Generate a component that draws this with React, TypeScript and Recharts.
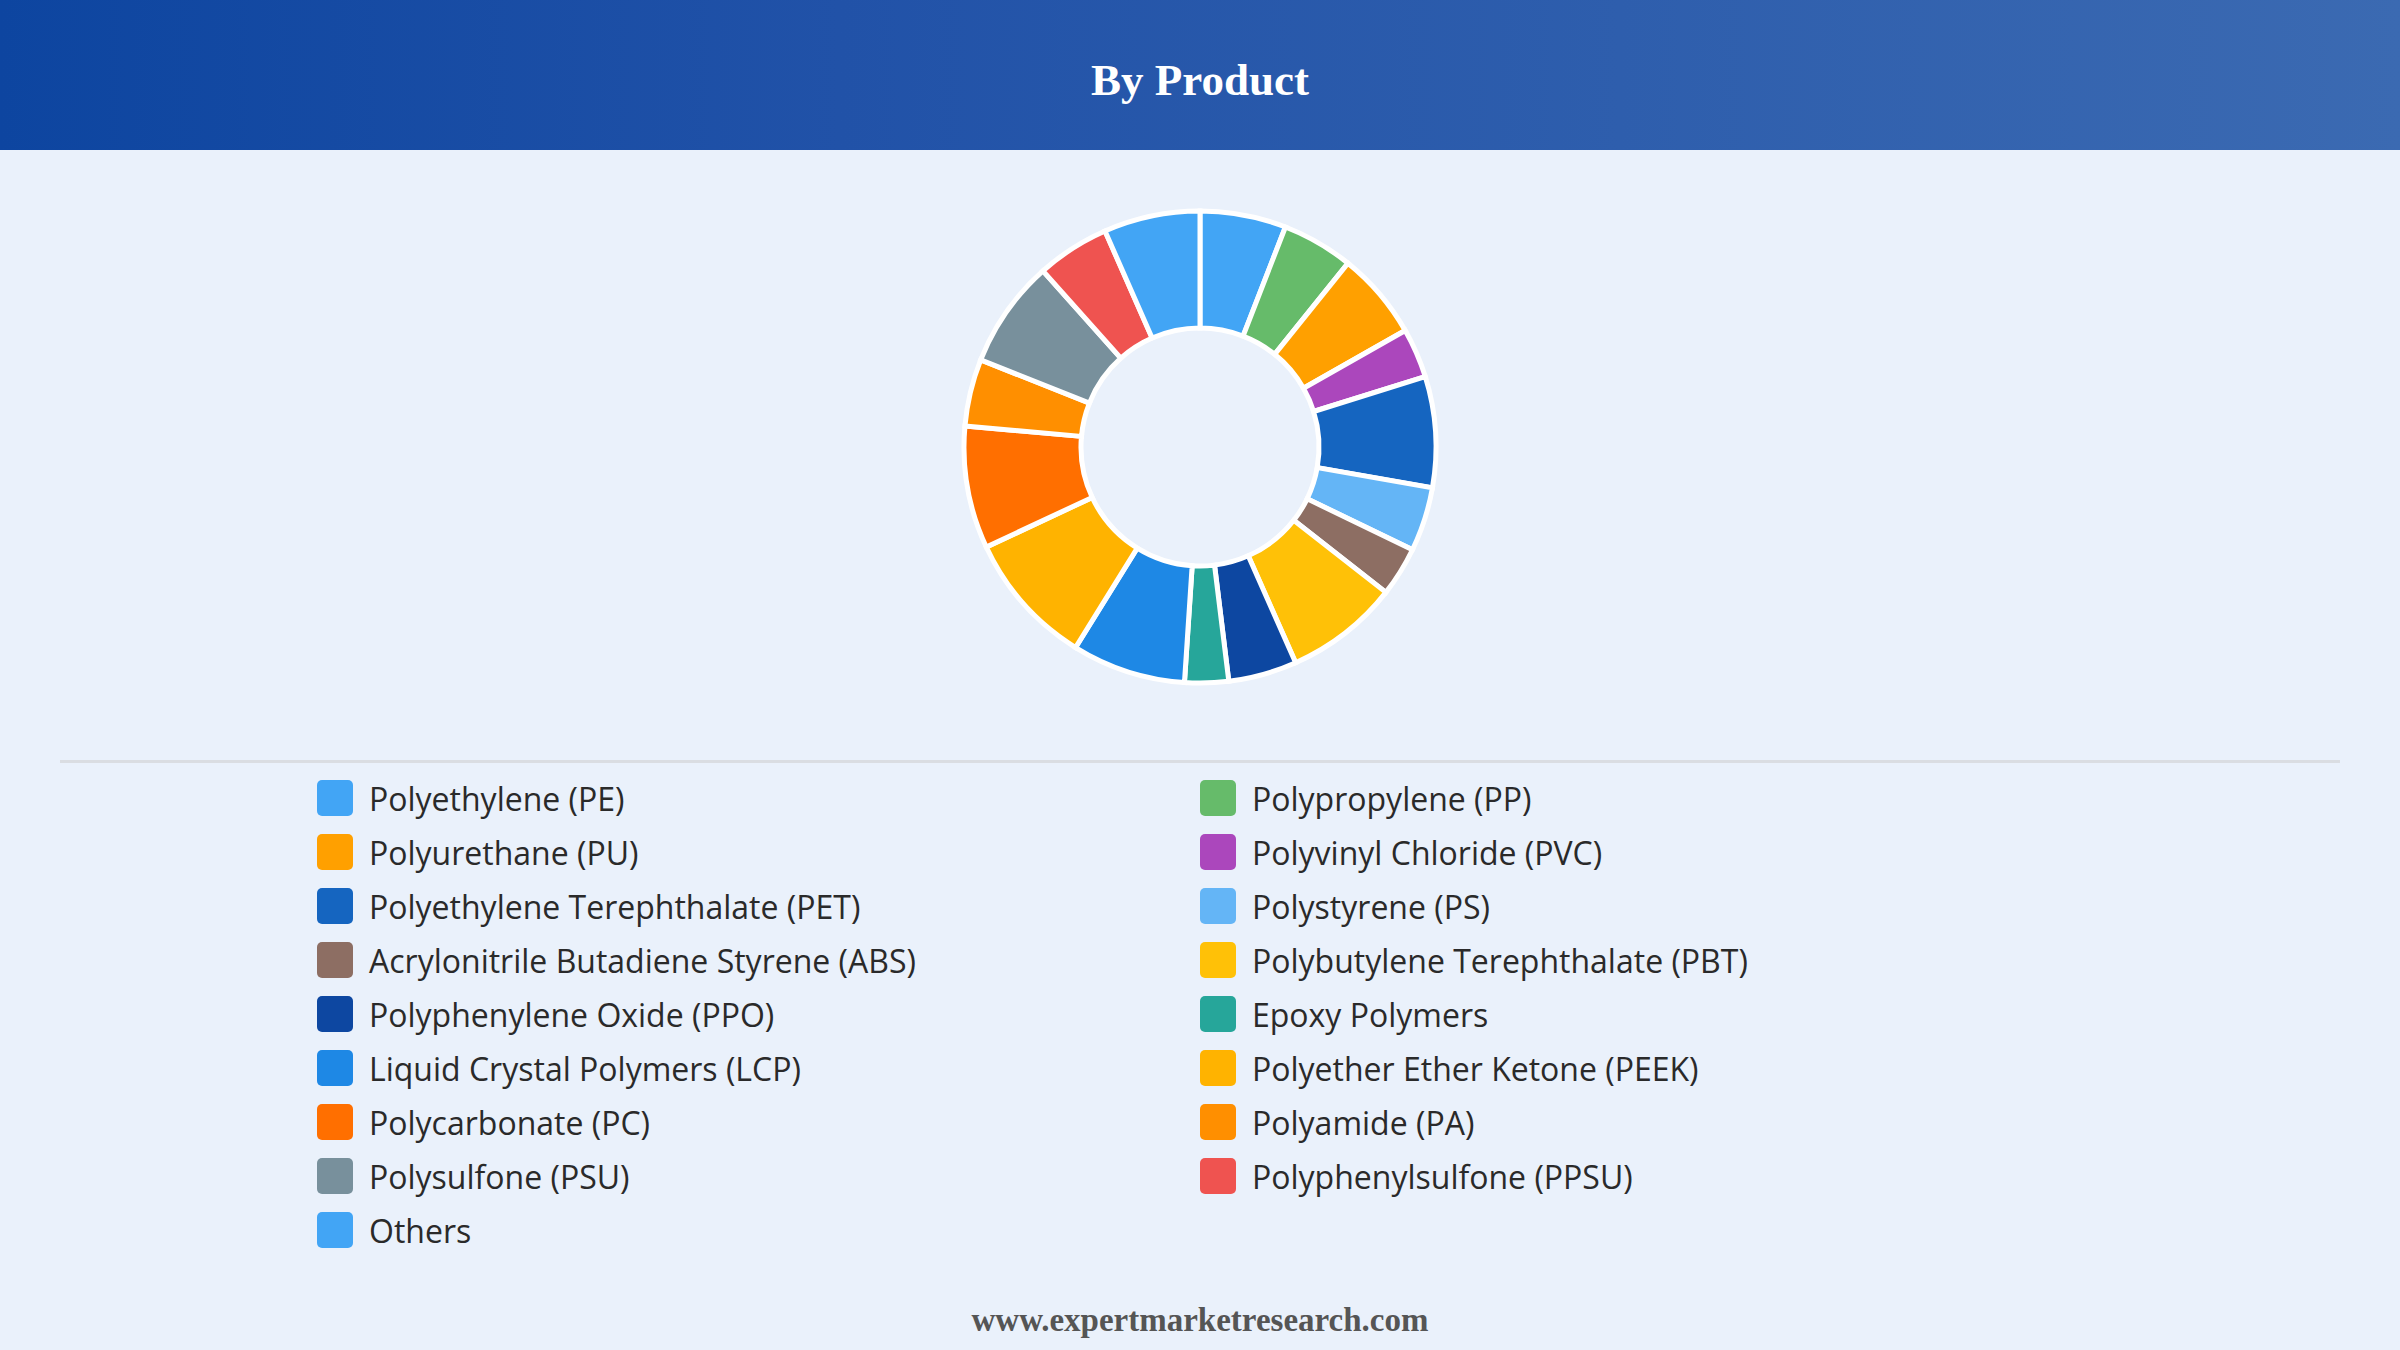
import React from "react";
import { PieChart, Pie, Cell, Legend } from "recharts";

const categories = [
  "Polyethylene (PE)",
  "Polypropylene (PP)",
  "Polyurethane (PU)",
  "Polyvinyl Chloride (PVC)",
  "Polyethylene Terephthalate (PET)",
  "Polystyrene (PS)",
  "Acrylonitrile Butadiene Styrene (ABS)",
  "Polybutylene Terephthalate (PBT)",
  "Polyphenylene Oxide (PPO)",
  "Epoxy Polymers",
  "Liquid Crystal Polymers (LCP)",
  "Polyether Ether Ketone (PEEK)",
  "Polycarbonate (PC)",
  "Polyamide (PA)",
  "Polysulfone (PSU)",
  "Polyphenylsulfone (PPSU)",
  "Others",
];

const shares = [5.9, 4.9, 6.0, 3.4, 7.6, 4.4, 3.4, 7.8, 4.7, 3.0, 7.8, 9.2, 8.4, 4.6, 7.4, 5.0, 6.6];

const colors = [
  "#42A5F5",
  "#66BB6A",
  "#FFA000",
  "#AB47BC",
  "#1565C0",
  "#64B5F6",
  "#8D6E63",
  "#FFC107",
  "#0D47A1",
  "#26A69A",
  "#1E88E5",
  "#FFB300",
  "#FF6F00",
  "#FF8F00",
  "#78909C",
  "#EF5350",
  "#42A5F5",
];

const title = "By Product";
const footer = "www.expertmarketresearch.com";

const data = categories.map((name, i) => ({ name, value: shares[i] }));

const LegendContent = () => {
  return (
    <div style={{ width: 2400 }}>
      <div
        style={{
          marginLeft: 60,
          width: 2280,
          height: 3,
          background: "#DADDE2",
          marginTop: 10,
        }}
      />
      <div
        style={{
          display: "grid",
          gridTemplateColumns: "883px 883px",
          marginLeft: 317,
          marginTop: 8,
        }}
      >
        {categories.map((name, i) => (
          <div
            key={i}
            style={{ display: "flex", alignItems: "center", height: 54 }}
          >
            <div
              style={{
                width: 36,
                height: 36,
                borderRadius: 5,
                background: colors[i],
                marginRight: 16,
                flexShrink: 0,
              }}
            />
            <span
              style={{
                fontFamily: "'Open Sans', sans-serif",
                fontSize: 32,
                fontWeight: 500,
                color: "#2A2A2A",
                whiteSpace: "nowrap",
              }}
            >
              {name}
            </span>
          </div>
        ))}
      </div>
    </div>
  );
};

export default function App() {
  return (
    <div
      style={{
        position: "absolute",
        left: 0,
        top: 0,
        width: 2400,
        height: 1350,
        background: "#EAF1FB",
        overflow: "hidden",
      }}
    >
      <div
        style={{
          position: "absolute",
          left: 0,
          top: 0,
          width: 2400,
          height: 150,
          background: "linear-gradient(90deg, #0D45A0 0%, #2152A8 35%, #3B6AB2 100%)",
          display: "flex",
          alignItems: "center",
          justifyContent: "center",
        }}
      >
        <span
          style={{
            fontFamily: "'Liberation Serif', 'Times New Roman', serif",
            fontWeight: "bold",
            fontSize: 45,
            color: "#FFFFFF",
            marginTop: 10,
          }}
        >
          {title}
        </span>
      </div>
      <div style={{ position: "absolute", left: 0, top: 0 }}>
        <PieChart width={2400} height={1280} margin={{ top: 0, right: 0, bottom: 0, left: 0 }}>
          <Pie
            data={data}
            dataKey="value"
            nameKey="name"
            cx={1200}
            cy={447}
            innerRadius={119}
            outerRadius={236}
            startAngle={90}
            endAngle={-270}
            stroke="#FFFFFF"
            strokeWidth={5}
            isAnimationActive={false}
          >
            {data.map((d, i) => (
              <Cell key={d.name} fill={colors[i]} />
            ))}
          </Pie>
          <Legend
            content={<LegendContent />}
            wrapperStyle={{ position: "absolute", top: 750, left: 0, width: 2400 }}
          />
        </PieChart>
      </div>
      <div
        style={{
          position: "absolute",
          left: 0,
          top: 1300,
          width: 2400,
          textAlign: "center",
          fontFamily: "'Liberation Serif', 'Times New Roman', serif",
          fontWeight: "bold",
          fontSize: 33,
          color: "#555555",
          lineHeight: "40px",
        }}
      >
        {footer}
      </div>
    </div>
  );
}
